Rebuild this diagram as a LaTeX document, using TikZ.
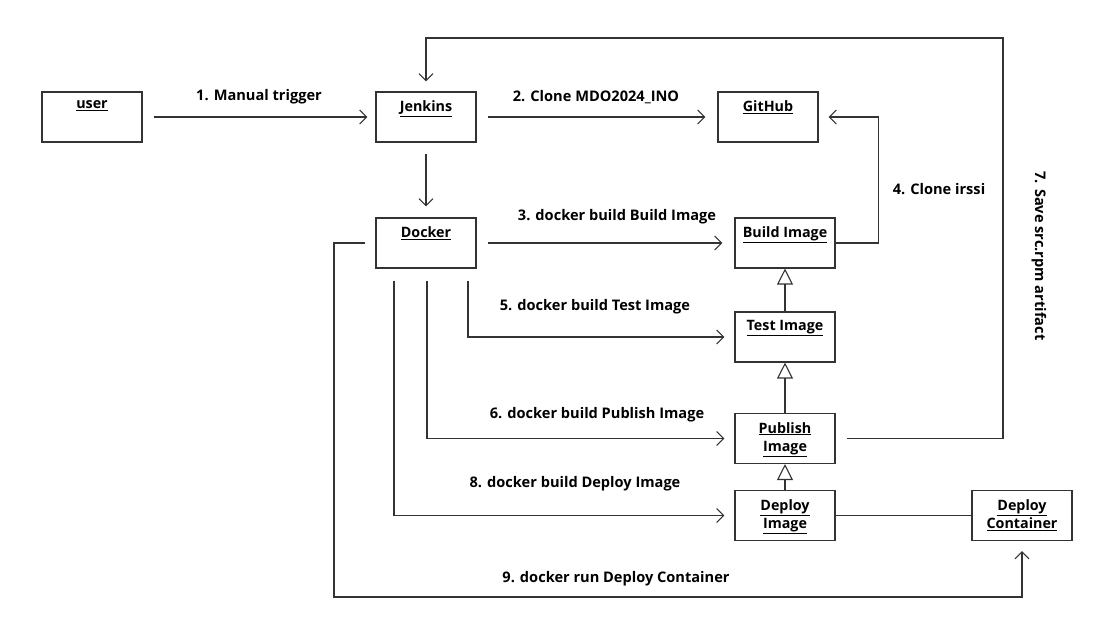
\documentclass[tikz,border=0pt]{standalone}
\usepackage{fontspec}
\setmainfont{Open Sans}
\usetikzlibrary{arrows.meta}

\tikzset{
  obj/.style={draw=black!80, line width=1.1pt, minimum width=100pt, minimum height=50pt, inner sep=0pt},
  objname/.style={anchor=north, yshift=-9pt, align=center, inner sep=0pt,
    font=\fontsize{14.3}{18.5}\selectfont\bfseries},
  msg/.style={font=\fontsize{14.6}{17}\selectfont\bfseries},
  call/.style={draw=black!80, line width=1.1pt, -{Straight Barb[length=7pt,width=14pt]}},
  gen/.style={draw=black!80, line width=1.1pt, -{Triangle[open,length=16pt,width=16pt]}},
  link/.style={draw=black!80, line width=1.1pt}
}

\begin{document}
\begin{tikzpicture}[x=1pt,y=-1pt]
    \useasboundingbox (0,0) rectangle (1097,616);
    % objects
    \node[obj, label={[objname]north:\underline{user}}] (user) at (92,117) {};
    \node[obj, label={[objname]north:\underline{Jenkins}}] (jenkins) at (426,117) {};
    \node[obj, label={[objname]north:\underline{GitHub}}] (github) at (768,117) {};
    \node[obj, label={[objname]north:\underline{Docker}}] (docker) at (426,243) {};
    \node[obj, label={[objname]north:\underline{Build Image}}] (build) at (785,243) {};
    \node[obj, label={[objname]north:\underline{Test Image}}] (test) at (785,337) {};
    \node[obj, label={[objname]north:\underline{Publish}\\\underline{Image}}] (publish) at (785,438.5) {};
    \node[obj, label={[objname]north:\underline{Deploy}\\\underline{Image}}] (deploy) at (785,515.5) {};
    \node[obj, label={[objname]north:\underline{Deploy}\\\underline{Container}}] (container) at (1022,515.5) {};
    \coordinate (loop7) at (1003,38);
    \coordinate (loop9) at (334,597);
    % messages
    \draw[call, shorten <=11pt, shorten >=8pt] (user.east) -- (jenkins.west);
    \draw[call, shorten <=11pt, shorten >=12pt] (jenkins.east) -- (github.west);
    \draw[call, shorten <=11pt, shorten >=11pt] (jenkins.south) -- (docker.north);
    \draw[call, shorten <=11pt, shorten >=12pt] (docker.east) -- (build.west);
    \draw[call, shorten >=10pt] (build.east) -- ++(43,0) |- (github.east);
    \draw[call, shorten <=12pt, shorten >=10pt] ([xshift=42pt]docker.south) |- (test.west);
    \draw[call, shorten <=12pt, shorten >=10pt] ([xshift=1pt]docker.south) |- (publish.west);
    \draw[call, shorten <=12pt, shorten >=10pt] ([xshift=-32pt]docker.south) |- (deploy.west);
    \draw[call, shorten >=10pt] ([xshift=11pt]publish.east) -| (loop7) -| (jenkins.north);
    \draw[call, shorten >=10pt] ([xshift=-10pt]docker.west) -| (loop9) -| (container.south);
    \draw[gen] (test.north) -- (build.south);
    \draw[gen] (publish.north) -- (test.south);
    \draw[gen] (deploy.north) -- (publish.south);
    \draw[link] (deploy.east) -- (container.west);
    % labels
    \node[msg] (m1) at (259,97) {1. Manual trigger};
    \node[msg] (m2) at (596,97) {2. Clone MDO2024\_INO};
    \node[msg] (m3) at (617,217) {3. docker build Build Image};
    \node[msg] (m4) at (939,189) {4. Clone irssi};
    \node[msg] (m5) at (595,307) {5. docker build Test Image};
    \node[msg] (m6) at (597,415) {6. docker build Publish Image};
    \node[msg, rotate=-90] (m7) at (1039,256) {7. Save src.rpm artifact};
    \node[msg] (m8) at (575,484) {8. docker build Deploy Image};
    \node[msg] (m9) at (616,579) {9. docker run Deploy Container};
\end{tikzpicture}
\end{document}
